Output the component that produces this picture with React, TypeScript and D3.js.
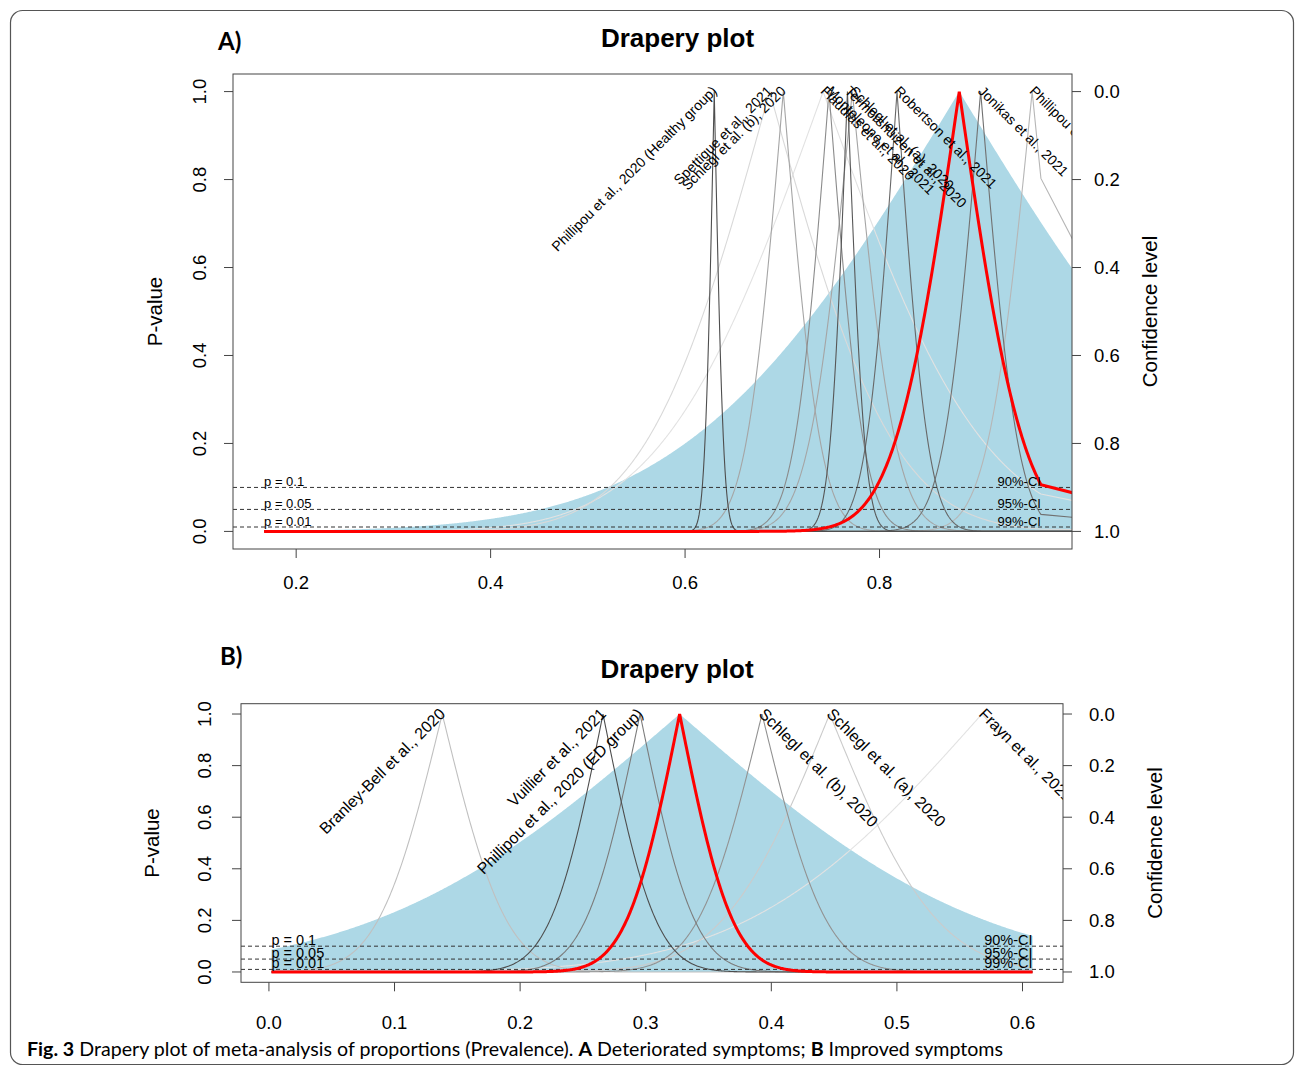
import React from 'react';
import * as d3 from 'd3';

// ---------- DATA ----------
// Panel A: deteriorated symptoms
const studiesA = [
  'Phillipou et al., 2020 (Healthy group)',
  'Spettigue et al., 2021',
  'Schlegl et al. (b), 2020',
  'Flaudias et al., 2020',
  'Monteleone et al., 2021',
  'Termorshuizen et al., 2020',
  'Schlegl et al. (a), 2020',
  'Robertson et al., 2021',
  'Jonikas et al., 2021',
  'Phillipou et al., 2020 (ED group)',
];
const estimatesA = [0.630, 0.687, 0.701, 0.742, 0.748, 0.767, 0.772, 0.818, 0.904, 0.957];
const stdErrA = [0.0075, 0.10, 0.030, 0.13, 0.028, 0.014, 0.035, 0.025, 0.030, 0.036];
const weightsA = [14, 6, 9, 5.5, 10.5, 13.5, 9, 12.5, 12, 8];
const labelSideA = ['L', 'L', 'L', 'R', 'R', 'R', 'R', 'R', 'R', 'R'];
const pooledA = [0.882, 0.052]; // estimate, standard error
const predictionSeA = 0.22;
const dataRangeA = [0.167, 0.966];
const xTicksA = [0.2, 0.4, 0.6, 0.8];

// Panel B: improved symptoms
const studiesB = [
  'Branley-Bell et al., 2020',
  'Vuillier et al., 2021',
  'Phillipou et al., 2020 (ED group)',
  'Schlegl et al. (b), 2020',
  'Schlegl et al. (a), 2020',
  'Frayn et al., 2021',
];
const estimatesB = [0.138, 0.266, 0.2955, 0.3926, 0.4465, 0.5677];
const stdErrB = [0.040, 0.033, 0.034, 0.040, 0.067, 0.146];
const weightsB = [14, 24, 20, 18, 13, 11];
const labelSideB = ['L', 'L', 'L', 'R', 'R', 'R'];
const pooledB = [0.327, 0.033];
const predictionSeB = 0.19;
const dataRangeB = [0.002, 0.608];
const xTicksB = [0, 0.1, 0.2, 0.3, 0.4, 0.5, 0.6];

// Shared
const yTicks = [0, 0.2, 0.4, 0.6, 0.8, 1.0];
const pLevels = [0.1, 0.05, 0.01];
const pLabels = ['p = 0.1', 'p = 0.05', 'p = 0.01'];
const ciLabels = ['90%-CI', '95%-CI', '99%-CI'];

// ---------- helpers ----------
function normCdf(z: number) {
  const x = Math.abs(z) / Math.SQRT2;
  const t = 1 / (1 + 0.3275911 * x);
  const y = 1 - ((((1.061405429 * t - 1.453152027) * t + 1.421413741) * t - 0.284496736) * t + 0.254829592) * t * Math.exp(-x * x);
  return z >= 0 ? 0.5 * (1 + y) : 0.5 * (1 - y);
}
const pval = (x: number, est: number, se: number) => 2 * (1 - normCdf(Math.abs(x - est) / se));

const FONT = '"Liberation Sans", Arial, Helvetica, sans-serif';

type Layout = {
  x0: number; x1: number; y0: number; y1: number;
  leftLabelX: number; rightLabelX: number; pTitleX: number; cTitleX: number;
  xLabelY: number; titleY: number; tagY: number; tagX: number; tail: boolean;
  studyFont: number; levelFont: number;
};

function Panel(props: {
  id: string; tag: string; layout: Layout;
  studies: string[]; est: number[]; se: number[]; w: number[]; side: string[];
  pooled: number[]; predSe: number; range: number[]; xTicks: number[]; blueToEdge: boolean;
}) {
  const { id, tag, layout: L, studies, est, se, w, side, pooled, predSe, range, xTicks } = props;
  const ext = (range[1] - range[0]) * 0.04;
  const x = d3.scaleLinear().domain([range[0] - ext, range[1] + ext]).range([L.x0, L.x1]);
  const y = d3.scaleLinear().domain([-0.04, 1.04]).range([L.y1, L.y0]);
  const n = 900;
  const baseGrid = d3.range(n + 1).map(i => range[0] + (i * (range[1] - range[0])) / n);
  const line = d3.line<[number, number]>().x(d => x(d[0])).y(d => y(d[1]));
  const xEdge = range[1] + ext;

  const curvePts = (e: number, s: number): [number, number][] => {
    const g = baseGrid.concat(e >= range[0] && e <= range[1] ? [e] : []).sort((a, b) => a - b);
    const pts: [number, number][] = g.map(v => [v, pval(v, e, s)]);
    if (L.tail) {
      const last = pts[pts.length - 1][1];
      pts.push([xEdge + 0.002, last * 0.82]);
    }
    return pts;
  };

  const blueEnd = props.blueToEdge ? xEdge + 0.01 : range[1];
  const blueGrid = d3.range(n + 1).map(i => range[0] + (i * (blueEnd - range[0])) / n).concat([pooled[0]]).sort((a, b) => a - b);
  const bluePts: [number, number][] = [[range[0], 0], ...blueGrid.map(g => [g, pval(g, pooled[0], predSe)] as [number, number]), [blueEnd, 0]];

  const wExt = d3.extent(w) as [number, number];
  const shade = d3.scaleLinear<string>().domain(wExt).range(['#e2e2e2', '#4e4e4e']).interpolate(d3.interpolateRgb);
  const fmt = d3.format('.1f');
  const order = d3.range(studies.length).sort((a, b) => w[a] - w[b]);
  const yMid = (y(0) + y(1)) / 2;

  return (
    <g>
      <defs>
        <clipPath id={id}>
          <rect x={L.x0} y={L.y0} width={L.x1 - L.x0} height={L.y1 - L.y0} />
        </clipPath>
      </defs>
      <text x={L.tagX} y={L.tagY} fontFamily="Lato, 'Open Sans', sans-serif" fontWeight="bold" fontSize={24}>{tag}</text>
      <text x={(L.x0 + L.x1) / 2 + 25} y={L.titleY} fontFamily={FONT} fontWeight="bold" fontSize={26} textAnchor="middle">Drapery plot</text>
      <g clipPath={`url(#${id})`}>
        <path d={line(bluePts) || ''} fill="#ADD8E6" stroke="none" />
        {order.map(i => (
          <path key={i} d={line(curvePts(est[i], se[i])) || ''} fill="none" stroke={shade(w[i])} strokeWidth={1.1} />
        ))}
        {pLevels.map(p => (
          <line key={p} x1={L.x0} x2={L.x1} y1={y(p)} y2={y(p)} stroke="#333" strokeWidth={1} strokeDasharray="4 3" />
        ))}
        <path d={line(curvePts(pooled[0], pooled[1])) || ''} fill="none" stroke="#ff0000" strokeWidth={3} />
        {studies.map((s, i) => {
          const px = x(est[i]);
          const py = y(1) - 3;
          const left = side[i] === 'L';
          return (
            <text key={s} x={px} y={py} dy="0.35em" fontFamily={FONT} fontSize={L.studyFont}
              textAnchor={left ? 'end' : 'start'}
              transform={`rotate(${left ? -45 : 45} ${px} ${py})`}>{s}</text>
          );
        })}
        {pLevels.map((p, i) => (
          <text key={'pl' + p} x={x(range[0])} y={y(p) - 1.5} fontFamily={FONT} fontSize={L.levelFont}>{pLabels[i]}</text>
        ))}
        {pLevels.map((p, i) => (
          <text key={'cl' + p} x={x(range[1])} y={y(p) - 1.5} fontFamily={FONT} fontSize={L.levelFont} textAnchor="end">{ciLabels[i]}</text>
        ))}
      </g>
      <rect x={L.x0} y={L.y0} width={L.x1 - L.x0} height={L.y1 - L.y0} fill="none" stroke="#444" strokeWidth={1} />
      {xTicks.map(t => (
        <g key={'x' + t}>
          <line x1={x(t)} x2={x(t)} y1={L.y1} y2={L.y1 + 9} stroke="#444" />
          <text x={x(t)} y={L.xLabelY} fontFamily={FONT} fontSize={18.5} textAnchor="middle">{fmt(t)}</text>
        </g>
      ))}
      {yTicks.map(t => (
        <g key={'y' + t}>
          <line x1={L.x0} x2={L.x0 - 9} y1={y(t)} y2={y(t)} stroke="#444" />
          <text x={L.leftLabelX} y={y(t)} fontFamily={FONT} fontSize={18.5} textAnchor="middle" transform={`rotate(-90 ${L.leftLabelX} ${y(t)})`}>{fmt(t)}</text>
          <line x1={L.x1} x2={L.x1 + 9} y1={y(t)} y2={y(t)} stroke="#444" />
          <text x={L.rightLabelX} y={y(t) + 6.5} fontFamily={FONT} fontSize={18.5}>{fmt(1 - t)}</text>
        </g>
      ))}
      <text x={L.pTitleX} y={yMid} fontFamily={FONT} fontSize={20.5} textAnchor="middle" transform={`rotate(-90 ${L.pTitleX} ${yMid})`}>P-value</text>
      <text x={L.cTitleX} y={yMid} fontFamily={FONT} fontSize={20.5} textAnchor="middle" transform={`rotate(-90 ${L.cTitleX} ${yMid})`}>Confidence level</text>
    </g>
  );
}

const layoutA: Layout = {
  x0: 233, x1: 1072, y0: 74, y1: 549,
  leftLabelX: 206.5, rightLabelX: 1094, pTitleX: 162, cTitleX: 1157,
  xLabelY: 589, titleY: 47, tagY: 50, tagX: 218, tail: true,
  studyFont: 14, levelFont: 13,
};
const layoutB: Layout = {
  x0: 241, x1: 1063, y0: 703.7, y1: 982.3,
  leftLabelX: 211.5, rightLabelX: 1089, pTitleX: 159, cTitleX: 1162,
  xLabelY: 1029, titleY: 678, tagY: 665, tagX: 220, tail: false,
  studyFont: 16, levelFont: 14.5,
};

export default function App() {
  return (
    <svg width={1295} height={1067} style={{ position: 'absolute', left: 0, top: 0, background: '#fff' }}>
      <rect x={10.5} y={10.5} width={1283} height={1054} rx={12} fill="#fff" stroke="#555" strokeWidth={1.2} />
      <Panel id="clipA" tag="A)" layout={layoutA} studies={studiesA} est={estimatesA} se={stdErrA} w={weightsA}
        side={labelSideA} pooled={pooledA} predSe={predictionSeA} range={dataRangeA} xTicks={xTicksA} blueToEdge={true} />
      <Panel id="clipB" tag="B)" layout={layoutB} studies={studiesB} est={estimatesB} se={stdErrB} w={weightsB}
        side={labelSideB} pooled={pooledB} predSe={predictionSeB} range={dataRangeB} xTicks={xTicksB} blueToEdge={false} />
      <text x={27} y={1056} fontFamily="Lato, 'Open Sans', sans-serif" fontSize={19} textLength={976} lengthAdjust="spacingAndGlyphs">
        <tspan fontWeight="bold">Fig. 3</tspan>
        <tspan>{'  Drapery plot of meta-analysis of proportions (Prevalence). '}</tspan>
        <tspan fontWeight="bold">A</tspan>
        <tspan>{' Deteriorated symptoms; '}</tspan>
        <tspan fontWeight="bold">B</tspan>
        <tspan>{' Improved symptoms'}</tspan>
      </text>
    </svg>
  );
}
